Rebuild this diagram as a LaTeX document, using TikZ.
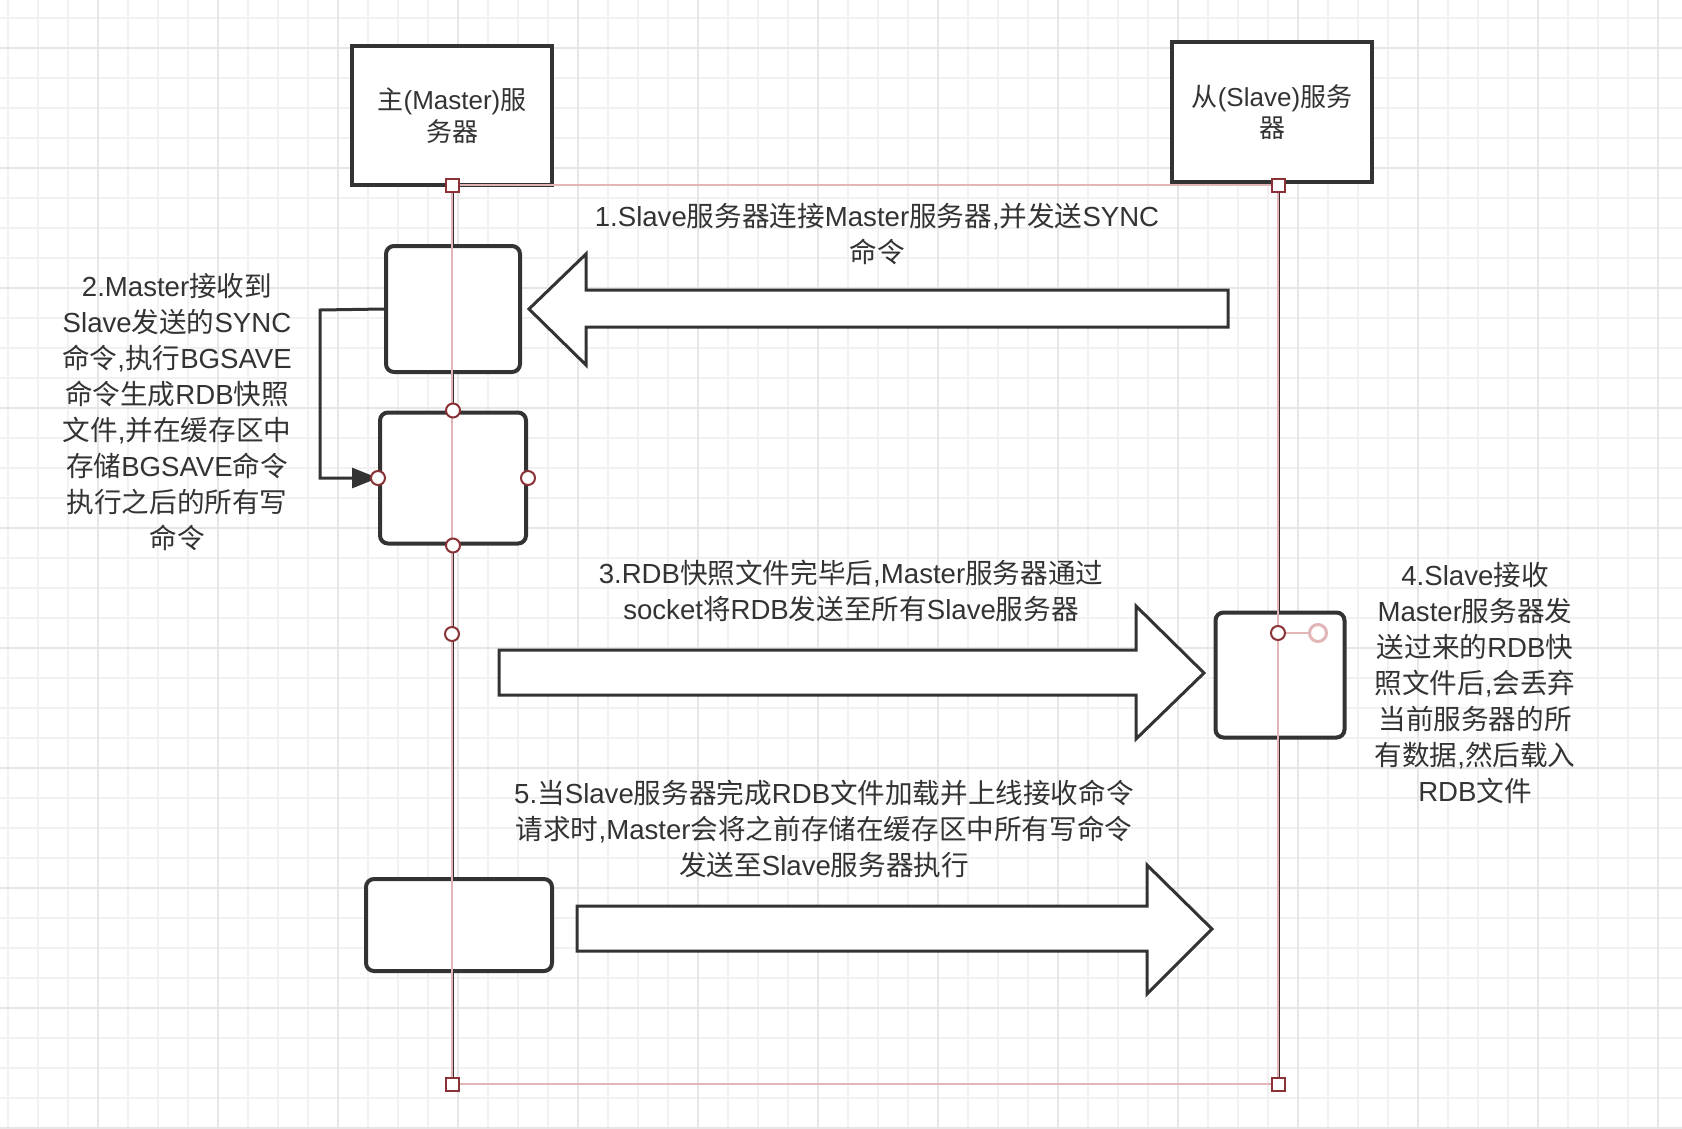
\documentclass[tikz,border=0pt]{standalone}
\usepackage{fontspec}
\setmainfont{Liberation Sans}
\newfontfamily\cjk{Noto Sans CJK SC}
\newcommand\cj[1]{{\cjk #1}}
\usetikzlibrary{arrows.meta}
\definecolor{ink}{HTML}{333333}
\definecolor{life}{HTML}{3E2A2C}
\definecolor{selred}{HTML}{8A3236}
\definecolor{selpink}{HTML}{E2B5B7}
\definecolor{gridminor}{HTML}{F1F1F1}
\definecolor{gridmajor}{HTML}{E6E6E6}
\begin{document}
\begin{tikzpicture}[x=1pt,y=-1pt,
  objbox/.style={draw=ink,line width=4pt,fill=white,minimum width=200pt,minimum height=139pt,inner sep=0pt,text=ink,align=center,font=\fontsize{26}{31.5}\selectfont},
  actbox/.style={draw=ink,line width=4pt,fill=white,rounded corners=8pt,inner sep=0pt},
  lbl/.style={text=ink,align=center,inner sep=0pt,font=\fontsize{27.6}{36}\selectfont},
  blockarrow/.style={draw=ink,line width=3pt,fill=white,line join=miter},
  selsq/.style={draw=selred,line width=2pt,fill=white,minimum size=13pt,inner sep=0pt},
  selcirc/.style={draw=selred,line width=2pt,fill=white,circle,minimum size=14pt,inner sep=0pt},
]
% background and grid
\fill[white] (0,0) rectangle (1682,1128);
\useasboundingbox (0,0) rectangle (1682,1128);
\foreach \gx in {8,38,...,1680} {\draw[gridminor,line width=2pt] (\gx,0) -- (\gx,1128);}
\foreach \gy in {18,48,...,1128} {\draw[gridminor,line width=2pt] (0,\gy) -- (1682,\gy);}
\foreach \gx in {98,218,...,1680} {\draw[gridmajor,line width=2pt] (\gx,0) -- (\gx,1128);}
\foreach \gy in {48,168,...,1128} {\draw[gridmajor,line width=2pt] (0,\gy) -- (1682,\gy);}

% object boxes
\node[objbox] (master) at (452,115.5) {\cj{主}(Master)\cj{服}\\\cj{务器}};
\node[objbox,minimum height=140pt] (slave) at (1272,112) {\cj{从}(Slave)\cj{服务}\\\cj{器}};

% lifeline anchors
\coordinate (mtop) at (452,185);
\coordinate (stop) at (1278,185);
\coordinate (mbot) at (452,1084);
\coordinate (sbot) at (1278,1084);

% lifelines
\draw[life,line width=3pt] (mtop) -- (mbot);
\draw[life,line width=3pt] (stop) -- (sbot);

% activation boxes
\node[actbox,minimum width=134pt,minimum height=126pt] (actA) at (453,309) {};
\node[actbox,minimum width=146pt,minimum height=131pt] (actB) at (453,478) {};
\node[actbox,minimum width=129pt,minimum height=125pt] (actC) at (1280,675) {};
\node[actbox,minimum width=186pt,minimum height=92pt] (actD) at (459,925) {};

% elbow connector
\draw[ink,line width=3pt,-{Triangle[length=26pt,width=20pt]}] (actA.west) -- (320,310) -- (320,478) -- (actB.west);

% block arrows
\draw[blockarrow] (1228,290) -- (586,290) -- (586,254) -- (529,309) -- (586,365) -- (586,327) -- (1228,327) -- cycle;
\draw[blockarrow] (499,650) -- (1136,650) -- (1136,606) -- (1204,673) -- (1136,739) -- (1136,695) -- (499,695) -- cycle;
\draw[blockarrow] (577,906) -- (1147,906) -- (1147,865) -- (1212,929) -- (1147,994) -- (1147,951) -- (577,951) -- cycle;

% selection frame
\draw[selpink,line width=1.6pt] (mtop) -- (stop) -- (sbot) -- (mbot) -- cycle;

% selection markers
\node[selsq] (sq1) at (mtop) {};
\node[selsq] (sq2) at (stop) {};
\node[selsq] (sq3) at (mbot) {};
\node[selsq] (sq4) at (sbot) {};
\node[selcirc] (c1) at (actB.north) {};
\node[selcirc] (c2) at (actB.west) {};
\node[selcirc] (c3) at (actB.east) {};
\node[selcirc] (c4) at (actB.south) {};
\node[selcirc] (c5) at (452,634) {};
\node[selcirc] (c6) at (1278,633) {};
\node[circle,draw=selpink,line width=3pt,fill=white,minimum size=17pt,inner sep=0pt] (c7) at (1318,633) {};
\draw[selpink,line width=2.5pt] (c6) -- (c7);

% labels
\node[lbl] (t1) at (877,234.5) {1.Slave\cj{服务器连接}Master\cj{服务器},\cj{并发送}SYNC\\\cj{命令}};
\node[lbl] (t2) at (177,412) {2.Master\cj{接收到}\\Slave\cj{发送的}SYNC\\\cj{命令},\cj{执行}BGSAVE\\\cj{命令生成}RDB\cj{快照}\\\cj{文件},\cj{并在缓存区中}\\\cj{存储}BGSAVE\cj{命令}\\\cj{执行之后的所有写}\\\cj{命令}};
\node[lbl] (t3) at (851,590.5) {3.RDB\cj{快照文件完毕后},Master\cj{服务器通过}\\socket\cj{将}RDB\cj{发送至所有}Slave\cj{服务器}};
\node[lbl] (t4) at (1475,683) {4.Slave\cj{接收}\\Master\cj{服务器发}\\\cj{送过来的}RDB\cj{快}\\\cj{照文件后},\cj{会丢弃}\\\cj{当前服务器的所}\\\cj{有数据},\cj{然后载入}\\RDB\cj{文件}};
\node[lbl] (t5) at (824,829) {5.\cj{当}Slave\cj{服务器完成}RDB\cj{文件加载并上线接收命令}\\\cj{请求时},Master\cj{会将之前存储在缓存区中所有写命令}\\\cj{发送至}Slave\cj{服务器执行}};
\end{tikzpicture}
\end{document}
